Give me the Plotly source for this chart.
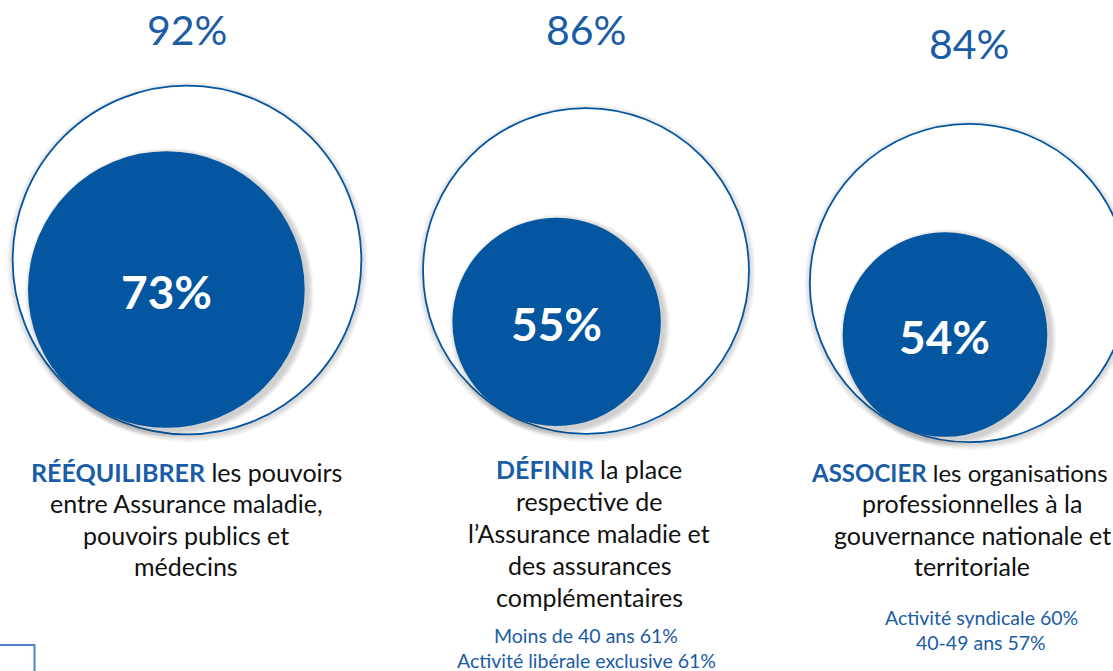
import math
import plotly.graph_objects as go

# --- data -------------------------------------------------------------
keywords = ["RÉÉQUILIBRER", "DÉFINIR", "ASSOCIER"]
total_pct = [92, 86, 84]          # outer circle (all respondents)
core_pct = [73, 55, 54]           # inner filled circle

desc_lines = [
    ["{kw} les pouvoirs", "entre Assurance maladie,", "pouvoirs publics et", "médecins"],
    ["{kw} la place", "respective de", "l’Assurance maladie et", "des assurances",
     "complémentaires"],
    ["{kw} les organisations", "professionnelles à la", "gouvernance nationale et",
     "territoriale"],
]
sub_lines = [
    [],
    ["Moins de 40 ans 61%", "Activité libérale exclusive 61%"],
    ["Activité syndicale 60%", "40-49 ans 57%"],
]

# --- layout helpers ---------------------------------------------------
W, H = 1113, 671
BLUE = "#03569F"
TXT_BLUE = "#1A5CA5"
FONT = "Lato"
px_per_pct = 1.895                     # radius scale (pixels per percent)
centers = [(187, 260), (586, 271), (969, 283)]   # outer circle centres
tangent_deg = [125, 120, 115]           # where inner circle touches outer
top_label_y = [29, 29, 43]
text_cx = [186, 589, 972]
text_y0 = [472, 469, 472]
line_step = [31.3, 32.0, 31.3]
sub_cx = [None, 586, 981]
sub_y0 = [None, 635, 617]
sub_step = 25.5
DESC_SIZE = 25

fig = go.Figure()
shapes = []
annotations = []


def circle(cx, cy, r, **kw):
    return dict(type="circle", xref="x", yref="y",
                x0=cx - r, x1=cx + r, y0=cy - r, y1=cy + r, **kw)


def soft_shadow(cx, cy, r, dx, dy, layers, alpha):
    out = []
    for i in range(layers, 0, -1):
        out.append(circle(cx + dx, cy + dy, r + i * 1.2,
                          fillcolor=f"rgba(60,60,60,{alpha})",
                          line=dict(width=0), layer="below"))
    return out


for g in range(3):
    cx, cy = centers[g]
    R = total_pct[g] * px_per_pct
    r = core_pct[g] * px_per_pct
    a = math.radians(tangent_deg[g])
    icx = cx + (R - r) * math.cos(a)
    icy = cy + (R - r) * math.sin(a)

    # outer ring with soft glow
    shapes += soft_shadow(cx, cy, R, 0.5, 2, 5, 0.04)
    shapes.append(circle(cx, cy, R, fillcolor="white",
                         line=dict(color=BLUE, width=1.8), layer="below"))
    # inner disc with drop shadow to the lower right
    shapes += soft_shadow(icx, icy, r, 3, 3, 5, 0.05)
    shapes.append(circle(icx, icy, r, fillcolor=BLUE,
                         line=dict(color=BLUE, width=0), layer="below"))

    annotations.append(dict(x=cx, y=top_label_y[g], text=f"{total_pct[g]}%",
                            showarrow=False, xref="x", yref="y",
                            font=dict(family=FONT, size=41, color=TXT_BLUE)))
    annotations.append(dict(x=icx, y=icy + 2, text=f"<b>{core_pct[g]}%</b>",
                            showarrow=False, xref="x", yref="y",
                            font=dict(family=FONT, size=46, color="white")))

    kw = f"<b><span style='color:{TXT_BLUE}'>{keywords[g]}</span></b>"
    for i, line in enumerate(desc_lines[g]):
        ann = dict(x=text_cx[g], y=text_y0[g] + i * line_step[g],
                   text=line.format(kw=kw), showarrow=False, xref="x", yref="y",
                   font=dict(family=FONT, size=DESC_SIZE, color="#111111"))
        if g == 2 and i == 0:
            # keep the long first line inside the right edge
            ann.update(x=W - 3, xanchor="right")
            ann["font"]["size"] = DESC_SIZE - 1
        annotations.append(ann)
    for i, line in enumerate(sub_lines[g]):
        annotations.append(dict(x=sub_cx[g], y=sub_y0[g] + i * sub_step,
                                text=line, showarrow=False, xref="x", yref="y",
                                font=dict(family=FONT, size=19.5, color=TXT_BLUE)))

# small framed box in the lower-left corner
shapes.append(dict(type="rect", xref="x", yref="y", x0=-5, x1=34.5, y0=645, y1=680,
                   line=dict(color="#4F81C8", width=2), fillcolor="rgba(0,0,0,0)"))

fig.update_layout(
    width=W, height=H,
    margin=dict(l=0, r=0, t=0, b=0),
    paper_bgcolor="white", plot_bgcolor="white",
    xaxis=dict(range=[0, W], visible=False, fixedrange=True),
    yaxis=dict(range=[H, 0], visible=False, fixedrange=True),
    shapes=shapes, annotations=annotations, showlegend=False,
)
fig.write_html("out.html")
